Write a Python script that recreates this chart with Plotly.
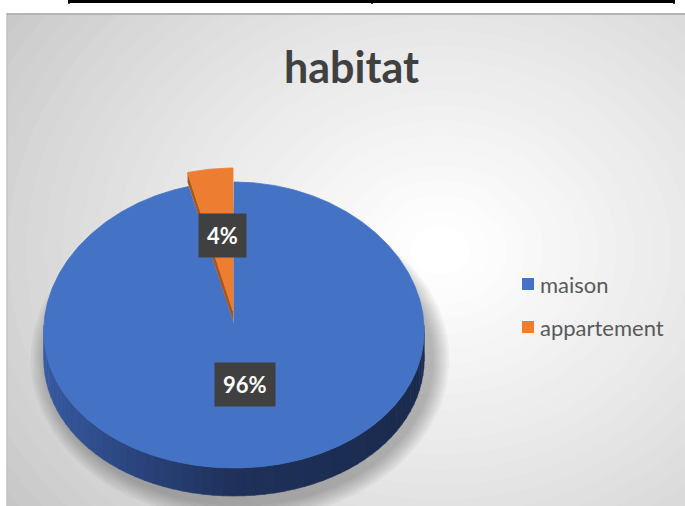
import numpy as np
import plotly.graph_objects as go

# ---------------- data ----------------
labels = ["maison", "appartement"]
values = [96, 4]
slice_colors = ["#4472C4", "#ED7D31"]
side_colors = ["#2F5597", "#A8561C"]
chart_title = "habitat"

# ---------------- geometry (pixel-like coordinates) ----------------
W, H = 685, 506
cx, cy, a, b, depth = 234, 325, 190, 143, 28
persp = 0.04
explode = [(0.0, 0.0), (-1.0, -14.0)]


def pt(theta, ox=0.0, oy=0.0, dz=0.0):
    t = np.radians(theta)
    return (cx + ox + a * np.sin(t) * (1 - persp * np.cos(t)),
            cy + oy - b * np.cos(t) + dz)


def lerp_color(t):
    stops = [(0.0, (54, 90, 162)), (0.3, (40, 64, 118)), (0.5, (31, 49, 90)), (1.0, (26, 42, 77))]
    for (t0, c0), (t1, c1) in zip(stops[:-1], stops[1:]):
        if t <= t1:
            f = (t - t0) / (t1 - t0)
            c = [int(round(c0[i] + f * (c1[i] - c0[i]))) for i in range(3)]
            return "rgb(%d,%d,%d)" % tuple(c)
    return "rgb(%d,%d,%d)" % stops[-1][1]


fig = go.Figure()

# ---------------- background (radial gradient) ----------------
shapes = []
shapes.append(dict(type="rect", xref="x", yref="y", x0=0, x1=W, y0=0, y1=H,
                   fillcolor="#C2C2C2", line=dict(width=0), layer="below"))
n = 30
gx, gy = 440, 250
for i in range(n):
    f = i / (n - 1)
    r = 560 * (1 - f) + 30 * f
    v = int(round(194 + (255 - 194) * (f ** 0.8)))
    shapes.append(dict(type="circle", xref="x", yref="y",
                       x0=gx - r, x1=gx + r, y0=gy - r * 0.82, y1=gy + r * 0.82,
                       fillcolor="rgb(%d,%d,%d)" % (v, v, v), line=dict(width=0), layer="below"))
# white page outside the chart area
shapes.append(dict(type="rect", xref="x", yref="y", x0=0, x1=W, y0=0, y1=13,
                   fillcolor="white", line=dict(width=0), layer="below"))
shapes.append(dict(type="rect", xref="x", yref="y", x0=0, x1=6.5, y0=0, y1=H,
                   fillcolor="white", line=dict(width=0), layer="below"))
shapes.append(dict(type="line", xref="x", yref="y", x0=6.5, x1=W, y0=14, y1=14,
                   line=dict(color="#B4B4B4", width=2), layer="below"))
shapes.append(dict(type="line", xref="x", yref="y", x0=7, x1=7, y0=14, y1=H,
                   line=dict(color="#BDBDBD", width=1), layer="below"))
# table border above the chart
shapes.append(dict(type="line", xref="x", yref="y", x0=68, x1=675, y0=1.5, y1=1.5,
                   line=dict(color="black", width=3)))
for xv in (69, 372, 674):
    shapes.append(dict(type="line", xref="x", yref="y", x0=xv, x1=xv, y0=0, y1=4,
                       line=dict(color="black", width=1.5)))

# ---------------- shadow ----------------
th = np.linspace(0, 360, 181)
for k in range(8):
    g = 4 + k * 2.2
    sx = cx + 6 + (a + g) * np.sin(np.radians(th))
    sy = cy + depth + 6 - (b + g) * np.cos(np.radians(th))
    fig.add_trace(go.Scatter(x=sx, y=sy, mode="lines", fill="toself",
                             fillcolor="rgba(0,0,0,0.035)", line=dict(width=0),
                             hoverinfo="skip", showlegend=False))

# ---------------- pie ----------------
total = float(sum(values))
starts = np.cumsum([0] + values[:-1]) / total * 360.0
ends = np.cumsum(values) / total * 360.0

# side of the big slice (front half), shaded
ox, oy = explode[0]
s0, e0 = starts[0], ends[0]
seg = np.arange(90, 270, 3.0)
for t1 in seg:
    t2 = min(t1 + 3.2, 270)
    if t2 < s0 or t1 > e0:
        continue
    arc = np.linspace(t1, t2, 4)
    xt, yt = pt(arc, ox, oy)
    xb, yb = pt(arc[::-1], ox, oy, depth)
    tm = np.radians((t1 + t2) / 2)
    col = lerp_color((np.sin(tm) + 1) / 2)
    fig.add_trace(go.Scatter(x=np.r_[xt, xb], y=np.r_[yt, yb], mode="lines", fill="toself",
                             fillcolor=col, line=dict(width=0.6, color=col),
                             hoverinfo="skip", showlegend=False))

# top faces and radial faces
for i, (lab, val) in enumerate(zip(labels, values)):
    ox, oy = explode[i]
    s, e = starts[i], ends[i]
    arc = np.linspace(s, e, max(int((e - s) * 2), 6))
    xa, ya = pt(arc, ox, oy)
    tipx, tipy = cx + ox, cy + oy
    if i > 0:
        rx, ry = pt(s, ox, oy)
        fig.add_trace(go.Scatter(x=[tipx, rx, rx, tipx], y=[tipy, ry, ry + depth * 0.35, tipy + depth * 0.35],
                                 mode="lines", fill="toself", fillcolor=side_colors[i],
                                 line=dict(width=0), hoverinfo="skip", showlegend=False))
    fig.add_trace(go.Scatter(x=np.r_[tipx, xa, tipx], y=np.r_[tipy, ya, tipy],
                             mode="lines", fill="toself", fillcolor=slice_colors[i],
                             line=dict(width=0.8, color=slice_colors[i]),
                             name=lab, hoverinfo="name", showlegend=False))

# ---------------- data labels ----------------
label_pos = [(245, 384), (222, 235)]
annotations = []
for i, val in enumerate(values):
    pct = "%d%%" % round(val / total * 100)
    lx, ly = label_pos[i]
    annotations.append(dict(x=lx, y=ly, xref="x", yref="y", text="<b>%s</b>" % pct,
                            showarrow=False, font=dict(family="Lato", size=22, color="white"),
                            bgcolor="#404040", borderpad=8, xanchor="center", yanchor="middle"))

# ---------------- legend ----------------
leg_y = [284, 327]
fig.add_trace(go.Scatter(x=[528] * len(labels), y=leg_y, mode="markers",
                         marker=dict(symbol="square", size=12, color=slice_colors),
                         hoverinfo="skip", showlegend=False))
for lab, yy in zip(labels, leg_y):
    annotations.append(dict(x=538, y=yy, xref="x", yref="y", text=lab, showarrow=False,
                            xanchor="left", yanchor="middle",
                            font=dict(family="Lato", size=22, color="#595959")))

# ---------------- title ----------------
annotations.append(dict(x=351, y=66, xref="x", yref="y", text="<b>%s</b>" % chart_title,
                        showarrow=False, xanchor="center", yanchor="middle",
                        font=dict(family="Lato", size=43, color="#404040")))

fig.update_layout(
    width=W, height=H, margin=dict(l=0, r=0, t=0, b=0),
    paper_bgcolor="white", plot_bgcolor="rgba(0,0,0,0)",
    xaxis=dict(range=[0, W], visible=False, fixedrange=True),
    yaxis=dict(range=[H, 0], visible=False, fixedrange=True),
    shapes=shapes, annotations=annotations, showlegend=False,
)

fig.write_html("out.html", config={"displayModeBar": False},
               post_script="document.body.style.margin='0';document.body.style.overflow='hidden';")
